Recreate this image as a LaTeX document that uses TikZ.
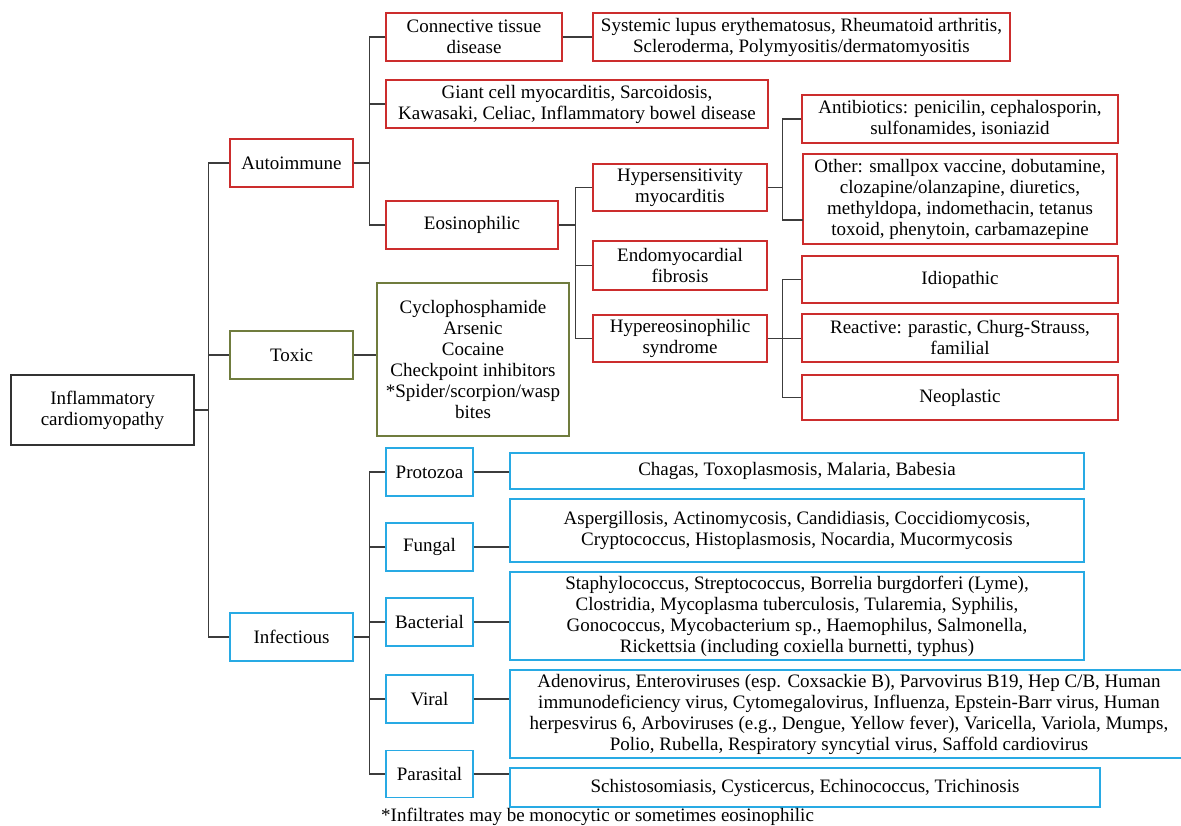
\documentclass[tikz,border=0pt]{standalone}
\usepackage{fontspec}
\setmainfont{Liberation Serif}
\usetikzlibrary{calc}
\definecolor{cred}{RGB}{204,45,45}
\definecolor{cgreen}{RGB}{112,124,62}
\definecolor{cblue}{RGB}{40,170,228}
\definecolor{cline}{RGB}{60,60,60}
\definecolor{cblack}{RGB}{50,50,50}
\begin{document}
\begin{tikzpicture}[x=1pt,y=-1pt,
  box/.style={draw, line width=1.3pt, align=center, inner sep=1pt,
    font=\fontsize{19}{21}\selectfont, text=black},
  redbox/.style={box, draw=cred},
  greenbox/.style={box, draw=cgreen},
  bluebox/.style={box, draw=cblue},
  blackbox/.style={box, draw=cblack},
  conn/.style={draw=cline, line width=1.3pt}]
\useasboundingbox (0,0) rectangle (1181,826);

% level 0 / 1
\node[blackbox, minimum width=183pt, minimum height=70pt] (root) at (102.5,410) {Inflammatory\\cardiomyopathy};
\node[redbox, minimum width=123pt, minimum height=48pt] (auto) at (291.5,163) {Autoimmune};
\node[greenbox, minimum width=123pt, minimum height=48pt] (toxic) at (291.5,355) {Toxic};
\node[bluebox, minimum width=123pt, minimum height=48pt] (infect) at (291.5,637) {Infectious};

% autoimmune
\node[redbox, minimum width=176pt, minimum height=48pt] (ctd) at (474,37) {Connective tissue\\disease};
\node[redbox, minimum width=417pt, minimum height=48pt] (sle) at (801.5,37) {Systemic lupus erythematosus, Rheumatoid arthritis,\\Scleroderma, Polymyositis/dermatomyositis};
\node[redbox, minimum width=382pt, minimum height=48pt] (giant) at (577,104) {Giant cell myocarditis, Sarcoidosis,\\Kawasaki, Celiac, Inflammatory bowel disease};
\node[redbox, minimum width=172pt, minimum height=48pt] (eos) at (472,225) {Eosinophilic};

% eosinophilic
\node[redbox, minimum width=174pt, minimum height=47pt] (hyper) at (680,187.5) {Hypersensitivity\\myocarditis};
\node[redbox, minimum width=174pt, minimum height=49pt] (endo) at (680,265.5) {Endomyocardial\\fibrosis};
\node[redbox, minimum width=174pt, minimum height=47pt] (hes) at (680,338.5) {Hypereosinophilic\\syndrome};

% hypersensitivity
\node[redbox, minimum width=316pt, minimum height=48pt] (anti) at (960,119) {Antibiotics: penicilin, cephalosporin,\\sulfonamides, isoniazid};
\node[redbox, minimum width=314pt, minimum height=90pt] (other) at (960,199) {Other: smallpox vaccine, dobutamine,\\clozapine/olanzapine, diuretics,\\methyldopa, indomethacin, tetanus\\toxoid, phenytoin, carbamazepine};
\coordinate (otherin) at (803,220);

% HES
\node[redbox, minimum width=316pt, minimum height=47pt] (idio) at (960,279.5) {Idiopathic};
\node[redbox, minimum width=316pt, minimum height=48pt] (react) at (960,338) {Reactive: parastic, Churg-Strauss,\\familial};
\node[redbox, minimum width=316pt, minimum height=45pt] (neo) at (960,397.5) {Neoplastic};

% toxic
\node[greenbox, minimum width=192pt, minimum height=153pt] (toxlist) at (473,359.5) {Cyclophosphamide\\Arsenic\\Cocaine\\Checkpoint inhibitors\\*Spider/scorpion/wasp\\bites};

% infectious
\node[bluebox, minimum width=87pt, minimum height=48pt] (proto) at (429.5,472) {Protozoa};
\node[bluebox, minimum width=87pt, minimum height=48pt] (fungal) at (429.5,547) {Fungal};
\node[bluebox, minimum width=87pt, minimum height=48pt] (bact) at (429.5,622) {Bacterial};
\node[bluebox, minimum width=87pt, minimum height=48pt] (viral) at (429.5,699) {Viral};
\node[bluebox, minimum width=87pt, minimum height=47pt] (para) at (429.5,774) {Parasital};

\node[bluebox, minimum width=574pt, minimum height=36pt] (chagas) at (797,471) {Chagas, Toxoplasmosis, Malaria, Babesia};
\node[bluebox, minimum width=574pt, minimum height=63pt] (asper) at (797,530.5) {Aspergillosis, Actinomycosis, Candidiasis, Coccidiomycosis,\\Cryptococcus, Histoplasmosis, Nocardia, Mucormycosis};
\node[bluebox, minimum width=574pt, minimum height=88pt] (staph) at (797,616) {Staphylococcus, Streptococcus, Borrelia burgdorferi (Lyme),\\Clostridia, Mycoplasma tuberculosis, Tularemia, Syphilis,\\Gonococcus, Mycobacterium sp., Haemophilus, Salmonella,\\Rickettsia (including coxiella burnetti, typhus)};
\node[bluebox, minimum width=678pt, minimum height=88pt] (adeno) at (849,714) {Adenovirus, Enteroviruses (esp. Coxsackie B), Parvovirus B19, Hep C/B, Human\\immunodeficiency virus, Cytomegalovirus, Influenza, Epstein-Barr virus, Human\\herpesvirus 6, Arboviruses (e.g., Dengue, Yellow fever), Varicella, Variola, Mumps,\\Polio, Rubella, Respiratory syncytial virus, Saffold cardiovirus};
\node[bluebox, minimum width=590pt, minimum height=39pt] (schisto) at (805,787.5) {Schistosomiasis, Cysticercus, Echinococcus, Trichinosis};

\node[anchor=west, inner sep=0pt, font=\fontsize{19}{21}\selectfont] (foot) at (381,817) {*Infiltrates may be monocytic or sometimes eosinophilic};

% connectors
\draw[conn] (auto.west) -- ++(-21,0) coordinate (tA) |- (infect.west);
\draw[conn] (toxic.west) -- (toxic.west -| tA);
\draw[conn] (root.east) -- (root.east -| tA);

\draw[conn] (auto.east) -- ++(16,0) coordinate (aA);
\draw[conn] (ctd.west) -- (ctd.west -| aA) |- (eos.west);
\draw[conn] (giant.west) -- (giant.west -| aA);
\draw[conn] (ctd.east) -- (sle.west);

\draw[conn] (eos.east) -- ++(17,0) coordinate (eA);
\draw[conn] (hyper.west) -- (hyper.west -| eA) |- (hes.west);
\draw[conn] (endo.west) -- (endo.west -| eA);

\draw[conn] (hyper.east) -- ++(15,0) coordinate (hA);
\draw[conn] (anti.west) -- (anti.west -| hA) |- (otherin);

\draw[conn] (hes.east) -- ++(15,0) coordinate (sA);
\draw[conn] (idio.west) -- (idio.west -| sA) |- (neo.west);
\draw[conn] (sA) -- (sA -| react.west);

\draw[conn] (toxic.east) -- (toxic.east -| toxlist.west);

\draw[conn] (infect.east) -- ++(16,0) coordinate (iA);
\draw[conn] (proto.west) -- (proto.west -| iA) |- (para.west);
\draw[conn] (fungal.west) -- (fungal.west -| iA);
\draw[conn] (bact.west) -- (bact.west -| iA);
\draw[conn] (viral.west) -- (viral.west -| iA);

\draw[conn] (proto.east) -- (proto.east -| chagas.west);
\draw[conn] (fungal.east) -- (fungal.east -| asper.west);
\draw[conn] (bact.east) -- (bact.east -| staph.west);
\draw[conn] (viral.east) -- (viral.east -| adeno.west);
\draw[conn] (para.east) -- (para.east -| schisto.west);
\end{tikzpicture}
\end{document}
